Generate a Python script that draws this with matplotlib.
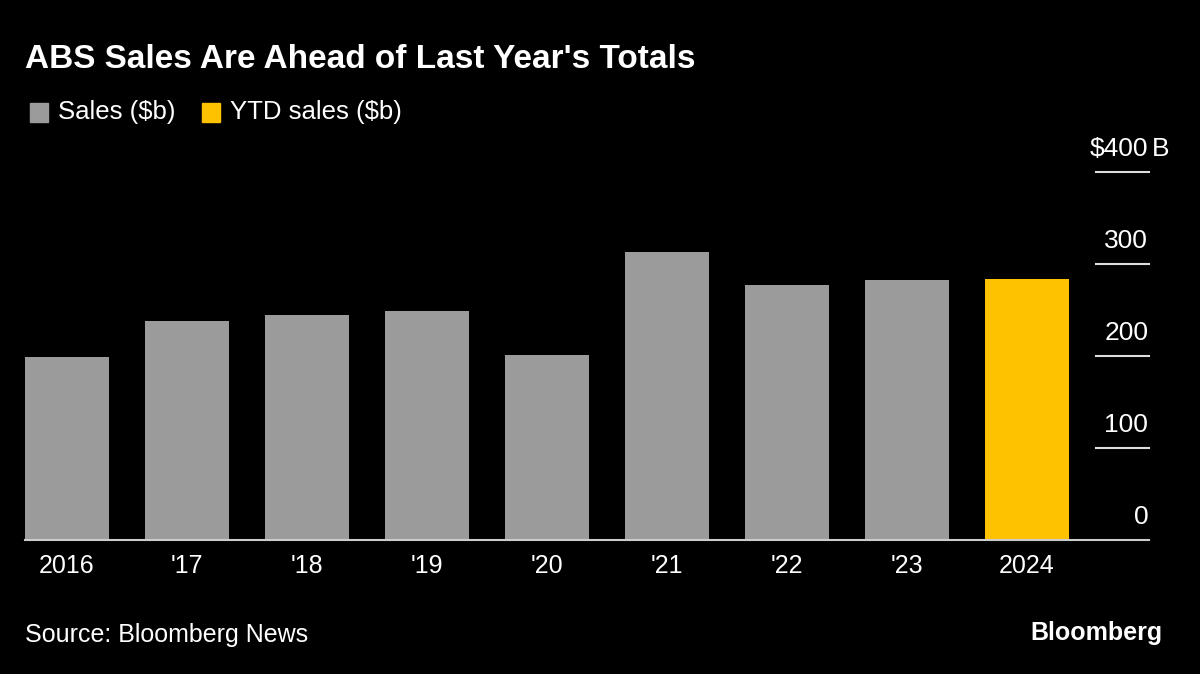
import matplotlib.pyplot as plt

plt.rcParams['font.family'] = ['Liberation Sans', 'DejaVu Sans']

years = ['2016', "'17", "'18", "'19", "'20", "'21", "'22", "'23", '2024']
sales = [199, 238, 245, 249, 201, 313, 277, 283, 284]
ytd = [False] * 8 + [True]
yticks = [0, 100, 200, 300, 400]
ylabels = ['0', '100', '200', '300', '$400']

gray = '#9b9b9b'
yellow = '#ffc200'
bg = 'black'

fig = plt.figure(figsize=(12, 6.74), dpi=100, facecolor=bg)
ax = fig.add_axes([25 / 1200, 134 / 674, 1124 / 1200, 368 / 674], facecolor=bg)

x = list(range(len(years)))
colors = [yellow if f else gray for f in ytd]
ax.bar(x, sales, width=0.7, color=colors, zorder=2)

ax.set_xlim(-0.35, 9.02)
ax.set_ylim(0, 400)
for s in ax.spines.values():
    s.set_visible(False)
ax.set_yticks([])
ax.set_xticks(x)
ax.set_xticklabels(years, color='white', fontsize=18)
ax.tick_params(axis='x', length=0, pad=10)

# baseline
ax.axhline(0, color='#cccccc', lw=1.5, zorder=3, clip_on=False)

# right-side tick lines with labels sitting above them
for v, lab in zip(yticks, ylabels):
    if v > 0:
        ax.plot([8.58, 9.02], [v, v], color='#dddddd', lw=1.5, clip_on=False)
    ax.annotate(lab, xy=(9.02, v), xytext=(-0.5, 8), textcoords='offset points',
                ha='right', va='bottom', color='white', fontsize=19,
                annotation_clip=False)
# unit suffix hangs past the label column
ax.annotate('B', xy=(9.02, 400), xytext=(2, 8), textcoords='offset points',
            ha='left', va='bottom', color='white', fontsize=19,
            annotation_clip=False)

fig.text(25 / 1200, 1 - 68 / 674, "ABS Sales Are Ahead of Last Year's Totals",
         color='white', fontsize=24, fontweight='bold', ha='left', va='baseline')

# legend
fig.patches.append(plt.Rectangle((30 / 1200, 1 - 122 / 674), 18 / 1200, 19 / 674,
                                 transform=fig.transFigure, color=gray))
fig.text(58 / 1200, 1 - 112 / 674, 'Sales ($b)', color='white', fontsize=18.5,
         ha='left', va='center')
fig.patches.append(plt.Rectangle((202 / 1200, 1 - 122 / 674), 18 / 1200, 19 / 674,
                                 transform=fig.transFigure, color=yellow))
fig.text(230 / 1200, 1 - 112 / 674, 'YTD sales ($b)', color='white', fontsize=18.5,
         ha='left', va='center')

fig.text(25 / 1200, 1 - 635 / 674, 'Source: Bloomberg News', color='white',
         fontsize=18, ha='left', va='center')
fig.text(1162 / 1200, 1 - 633 / 674, 'Bloomberg', color='white', fontsize=18,
         fontweight='bold', ha='right', va='center')

fig.savefig('out.png', dpi=100, facecolor=bg)
